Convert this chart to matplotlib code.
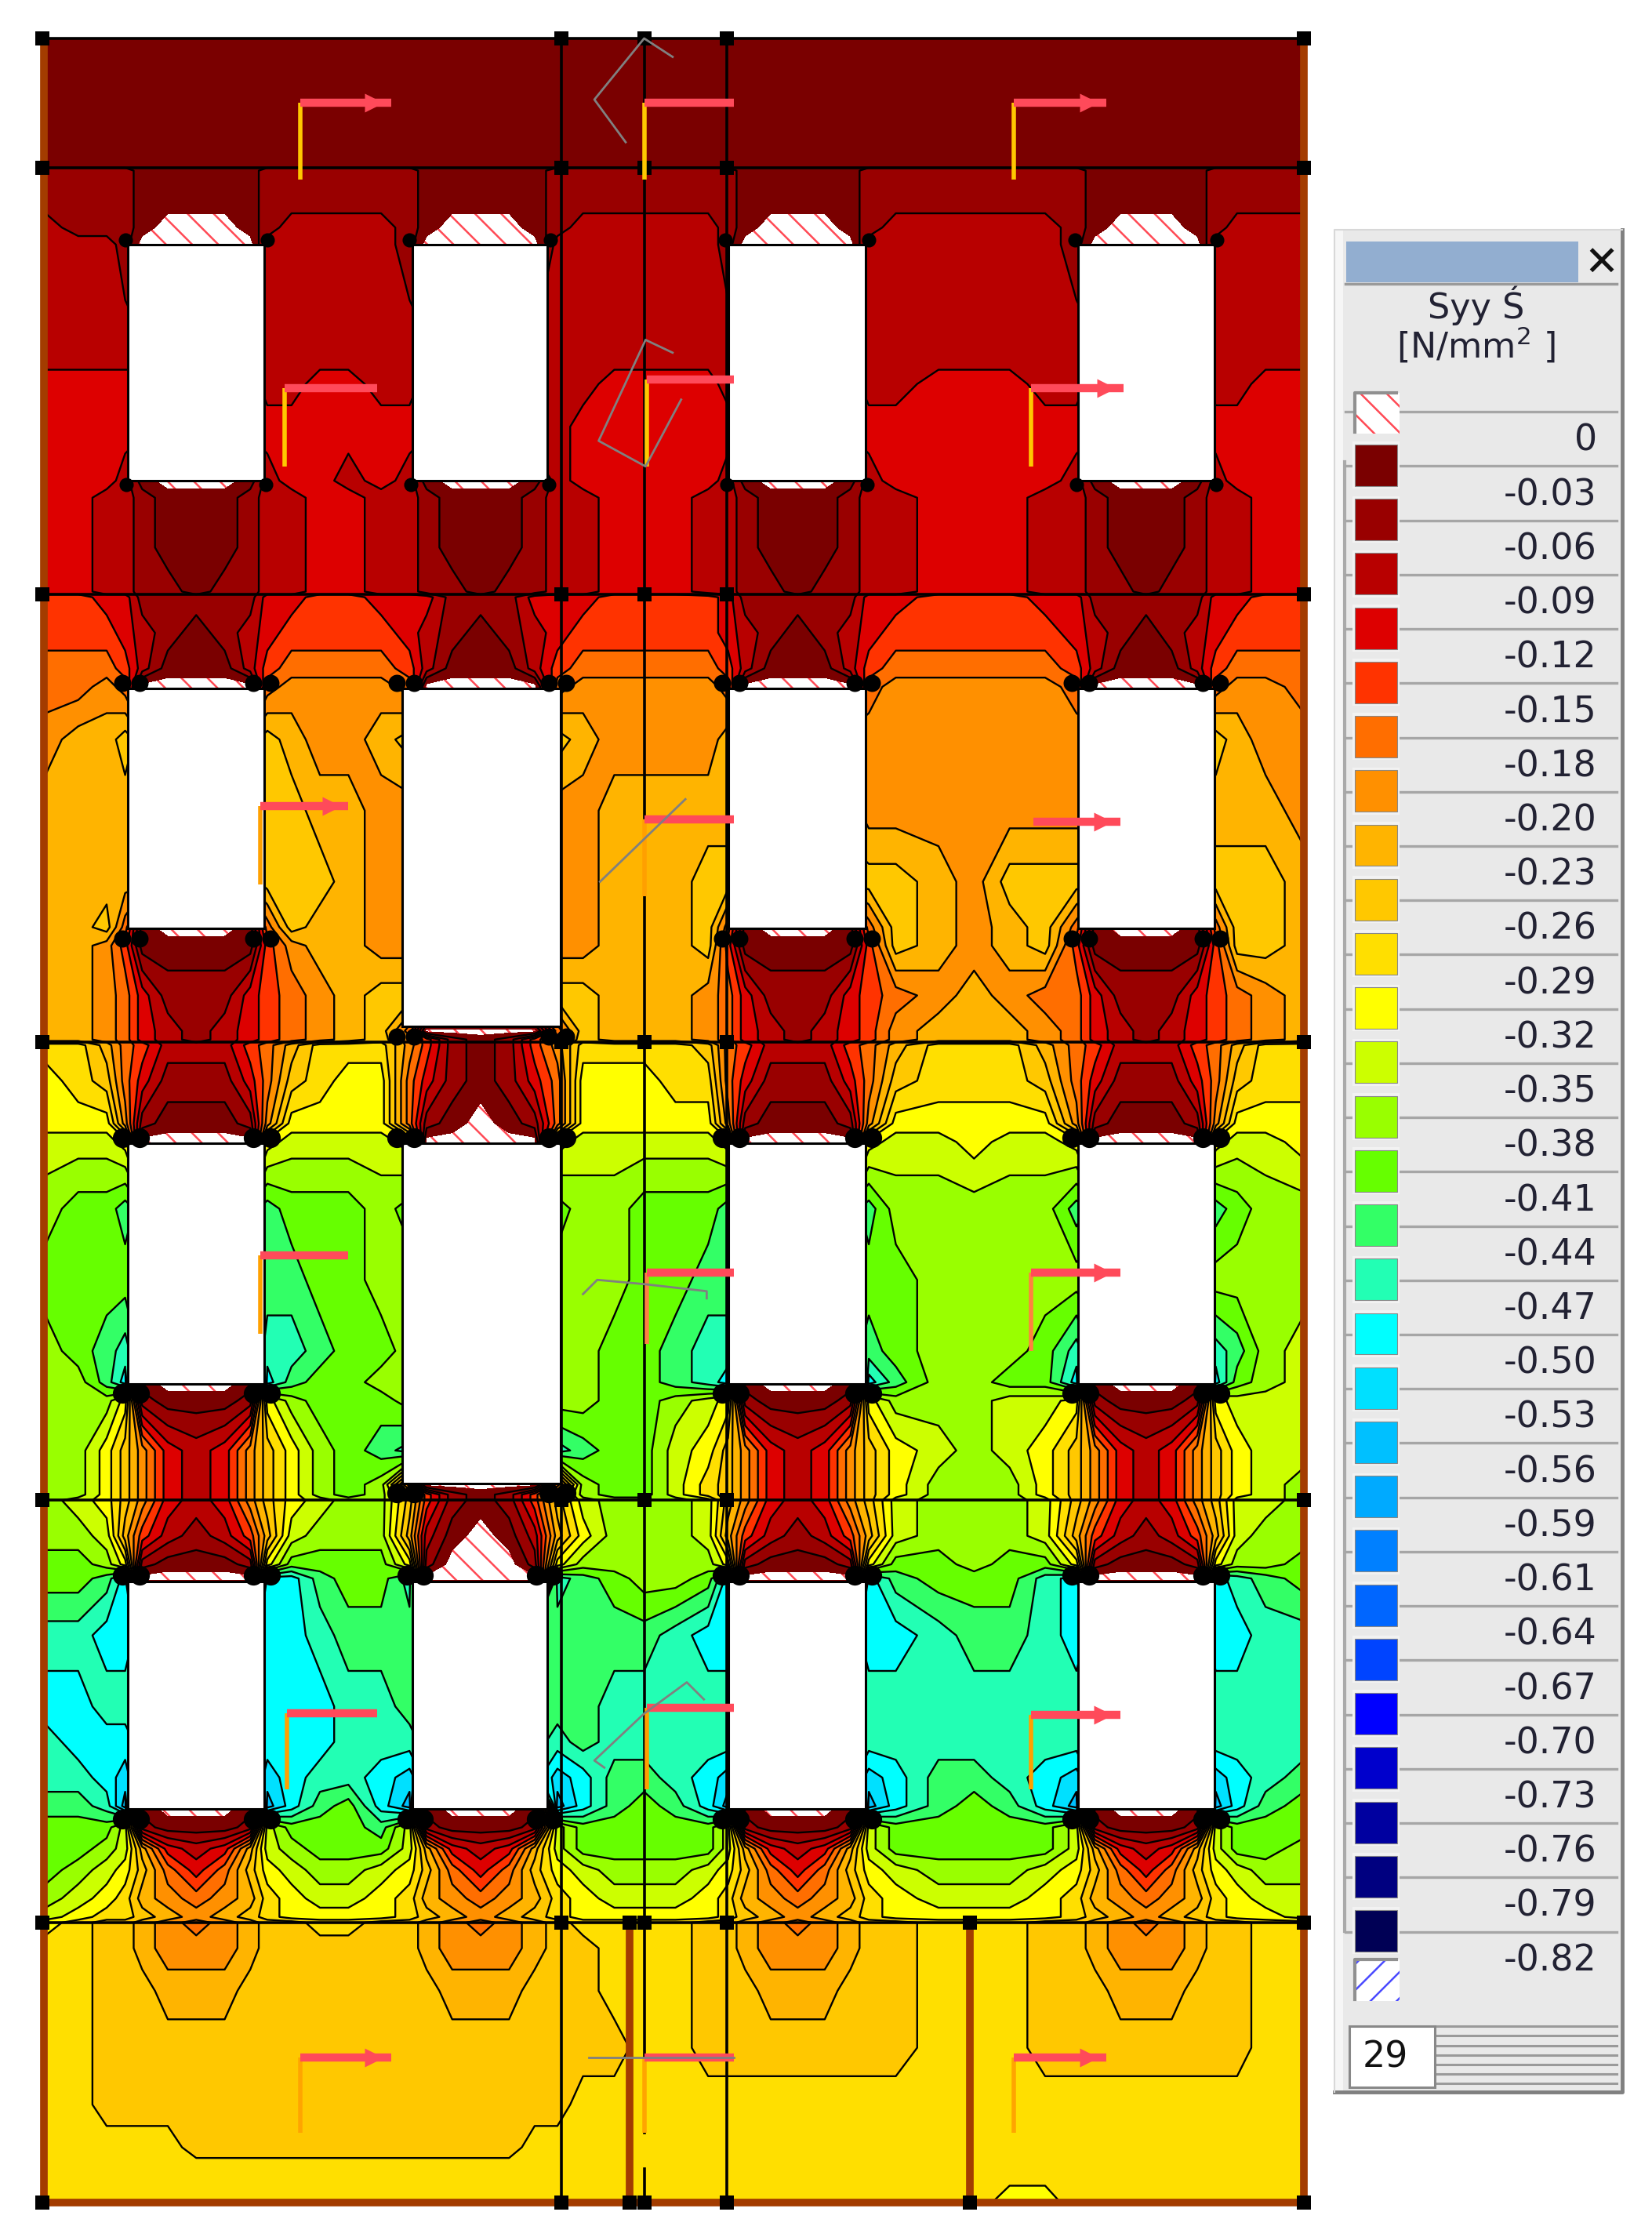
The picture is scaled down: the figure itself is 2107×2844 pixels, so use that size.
import numpy as np
import matplotlib
matplotlib.use("Agg")
import matplotlib.pyplot as plt
from matplotlib.patches import Rectangle

# --- legend ---
level_labels = ["0", "-0.03", "-0.06", "-0.09", "-0.12", "-0.15", "-0.18", "-0.20", "-0.23", "-0.26",
                "-0.29", "-0.32", "-0.35", "-0.38", "-0.41", "-0.44", "-0.47", "-0.50", "-0.53", "-0.56",
                "-0.59", "-0.61", "-0.64", "-0.67", "-0.70", "-0.73", "-0.76", "-0.79", "-0.82"]
band_colors = ["#7a0000", "#990000", "#b80000", "#dd0000", "#ff3300", "#ff6e00", "#ff9000", "#ffb400",
               "#ffc800", "#ffdf00", "#ffff00", "#ccff00", "#99ff00", "#66ff00", "#33ff66", "#22ffb4",
               "#00ffff", "#00e0ff", "#00c0ff", "#00aaff", "#0080ff", "#0066ff", "#0044ff", "#0000ff",
               "#0000cc", "#0000a0", "#000080", "#000055"]

# --- stress field: one char per station, base 36 band number, z = tension ---
x_stations = [32, 55, 75, 88, 100, 118, 138, 158, 176, 188, 205, 225, 245, 268, 288, 300, 318, 338, 358, 376,
              392, 410, 432, 453, 475, 498, 512, 524, 542, 561, 580, 598, 611, 630, 660, 685, 710, 735, 757,
              770, 788, 806, 824, 842, 855, 870, 890, 917]
y_stations = [27, 100, 116, 120, 140, 160, 172, 250, 270, 300, 338, 350, 385, 416, 420, 445, 470, 483, 520,
              570, 620, 652, 665, 700, 725, 731, 735, 760, 790, 803, 850, 900, 950, 972, 985, 1020, 1044,
              1051, 1055, 1080, 1100, 1110, 1150, 1200, 1225, 1250, 1270, 1285, 1300, 1315, 1335, 1348, 1352,
              1370, 1400, 1440, 1480, 1510, 1525, 1549]
band_rows = [
    "000 0000000 0000 0000000 00000 0000000 00000 0000000 000",
    "000 0000000 0000 0000000 00000 0000000 00000 0000000 000",
    "000 0000000 0000 0000000 00000 0000000 00000 0000000 000",
    "111 1000001 1111 1000001 11111 1000001 11111 1000001 111",
    "111 1000001 1111 1000001 11111 1000001 11111 1000001 111",
    "211 10zzz01 2222 10zzz01 22222 10zzz01 22222 10zzz01 222",
    "222 1zzzzz2 2222 1zzzzz2 22222 1zzzzz2 22222 1zzzzz2 222",
    "222 2222222 2222 2222222 22222 2222222 22222 2222222 222",
    "333 3333332 2332 2333332 23333 2333332 23332 2333332 233",
    "333 3333333 3333 3333332 33333 3333333 33333 3333333 333",
    "333 20zzz02 3323 20zzz02 33333 20zzz02 33333 20zzz02 333",
    "332 2100012 2332 2100012 23332 2100012 23332 2100012 233",
    "332 2100012 2332 2100012 23332 2100012 23332 2100012 233",
    "332 2110112 2332 2110112 23332 2110112 23332 2110112 233",
    "443 3111113 3443 3311133 34444 3111113 34443 3111113 344",
    "444 3210123 4444 3210123 44444 3210123 44444 3210123 444",
    "555 4200024 5555 4200024 55555 4200024 55555 4200024 555",
    "556 5zzzzz5 6666 5zzzzz5 66666 5zzzzz5 66666 5zzzzz5 665",
    "677 8777778 7667 8777778 76666 7777776 66666 6777778 766",
    "777 7777778 8776 6777776 67777 7777776 66666 6666667 776",
    "777 7777778 8876 6777776 67778 8888888 87688 8888888 887",
    "778 50zzz05 8776 6777776 67778 50zzz05 87678 50zzz05 887",
    "776 4000004 6776 6777776 67778 4000004 87678 4000004 887",
    "776 5311134 5678 8777778 87776 5311134 56765 5311134 567",
    "776 5321234 5678 5zzzzz5 87776 5321234 67776 5321234 567",
    "776 5321234 5678 6410146 87776 5321234 67776 5321234 567",
    "997 5422245 7999 6410146 99998 5422245 79997 5422245 799",
    "a98 5311135 89aa 5310135 aaa99 5311135 89998 5311135 899",
    "aaa 6100016 aaaa 510z015 aaaaa 6100016 aaaaa 6100016 aaa",
    "bbb azzzzza bbbb azzzzza bbbbb azzzzza bbabb azzzzza bba",
    "cdd eddddde dddc ddddddd ccddd eddddde ccccc eddddde dcc",
    "ddd dddddee eddc cdddddc ccdde edddddd dcccc ccccccc ccc",
    "cde fdddddf fedd cdddddc cddef fddddde dcccd fdddddf ecb",
    "cce g0zzz0g eddc cdddddc cddef g0zzz0g eccdd g0zzz0g dcb",
    "ccc a10001a cddd cdddddc cddcb a10001a cccbb a10001a bbb",
    "cca 8632368 acde fdddddf eddba 8632368 abcba 8632368 abb",
    "cca 8632368 acdc 5zzzzz5 cddb9 8632368 accca 8632368 abc",
    "cca 8632368 acdc 8410148 cddb9 8632368 accca 8632368 abc",
    "cba 8632368 abcc 8410148 bcccb 8632368 bcccb 8632368 bbc",
    "ccb 7421247 bccc 720z027 acccb 7421247 bcccb 7421247 bcc",
    "ddc a10001a dddd a1zzz1a ccccc a10001a ddcdd a10001a ccd",
    "dde gzzzzzg gedd fzzzzzf edccd gzzzzzg edddf gzzzzzg fed",
    "ffg gfffffg gfee efffffe eeefg gfffffg gfeef gfffffg gff",
    "ggf ffffffg ggff eeeeeee effff fffffff fffff fffffff fff",
    "fgg gffffgg ggff feeeeef effff fffffff fffff fffffff fff",
    "ffg hfffffh gffg hfffffh geefg hfffffh geefg hfffffh gfe",
    "eef i0zzz0i gedg i0zzz0i gedeg i0zzz0i gedeg i0zzz0i ged",
    "ddd b10001b ddde b10001b ddddd b10001b ddddd b10001b ddd",
    "ddc b73237b cddd b73237b ddddd b73237b ddddd b73237b ddc",
    "dcb a85358a bccb a85358a bcccb a85358a bcccb a85358a bcc",
    "cba 9765679 abba 9765679 abbba 9765679 abbba 9765679 abb",
    "ba9 9876789 aaaa 9876789 aaaaa 9876789 aaaaa 9876789 aab",
    "a98 8765678 8998 8765678 99998 8765678 89998 8765678 899",
    "998 8766678 8888 8766678 89998 8766678 89998 8766678 899",
    "998 8877788 8888 8877788 89998 8877788 89998 8877788 899",
    "998 8888888 8888 8888888 88998 8888888 89998 8888888 899",
    "998 8888888 8888 8888888 99999 9999999 99999 9999999 999",
    "999 9998888 8888 8888899 99999 9999999 99999 9999999 999",
    "999 9999999 9999 9999999 99999 9999999 99999 9999999 999",
    "999 9999999 9999 9999999 99999 9999999 999aa 9999999 999",
]

# --- building geometry ---
floor_y = [27, 118, 418, 733, 1055, 1352]
windows = [(90, 186, 172, 338), (290, 385, 172, 338), (512, 609, 172, 338), (758, 854, 172, 338),
           (90, 186, 484, 653), (283, 394, 484, 722), (512, 609, 484, 653), (758, 854, 484, 653),
           (90, 186, 804, 973), (283, 394, 804, 1043), (512, 609, 804, 973), (758, 854, 804, 973),
           (90, 186, 1112, 1272), (290, 385, 1112, 1272), (512, 609, 1112, 1272), (758, 854, 1112, 1272)]
# x, y of top, y of bottom, x end, arrow head, stem colour
sections = [(211, 72, 126, 275, True, "#ffc800"), (453, 72, 126, 516, False, "#ffc800"),
            (713, 72, 126, 778, True, "#ffc800"), (200, 273, 328, 265, False, "#ffc800"),
            (455, 267, 328, 516, False, "#ffc800"), (725, 273, 328, 790, True, "#ffc800"),
            (183, 567, 622, 245, True, "#ffa000"), (453, 576, 630, 516, False, "#ffa000"),
            (727, 578, 578, 788, True, "#ffa000"), (183, 883, 938, 245, False, "#ffa000"),
            (455, 895, 945, 516, False, "#ff8040"), (725, 895, 950, 788, True, "#ff8040"),
            (202, 1205, 1258, 265, False, "#ffa000"), (455, 1201, 1258, 516, False, "#ffa000"),
            (725, 1206, 1258, 788, True, "#ffa000"), (211, 1447, 1500, 275, True, "#ffa500"),
            (453, 1447, 1500, 516, False, "#ffa500"), (713, 1447, 1500, 778, True, "#ffa500")]
gray_paths = [[(473, 40), (453, 27), (418, 70), (440, 100)],
              [(473, 248), (454, 239), (421, 310), (454, 328), (479, 281)],
              [(482, 562), (453, 590), (422, 620)],
              [(410, 910), (420, 900), (453, 903), (497, 908), (497, 913)],
              [(495, 1195), (483, 1183), (453, 1205), (418, 1238), (425, 1243)],
              [(414, 1447), (516, 1447)]]

plt.rcParams["hatch.color"] = "#ff4a55"
plt.rcParams["hatch.linewidth"] = 1.8

scale = 1.8136  # picture px per unit of the coordinates above
fig = plt.figure(figsize=(21.07, 28.44), dpi=100, facecolor="white")
ax = fig.add_axes([0, 0, 1, 1])
ax.set_xlim(0, 2107 / scale)
ax.set_ylim(2844 / scale, 0)
ax.axis("off")

# Field
Z = np.array([[(-1 if c == "z" else int(c, 36)) + 0.5 for c in r.replace(" ", "")] for r in band_rows])
X, Y = np.meshgrid(x_stations, y_stations)
levels = np.arange(-1, 29)
ax.contourf(X, Y, Z, levels=levels, colors=["white"] + band_colors, hatches=["\\"] + [None] * 28, zorder=1)
ax.contour(X, Y, Z, levels=levels[2:-1], colors="black", linewidths=1.7, zorder=2)

# Windows and the dark clumps at their corners
for x0, x1, y0, y1 in windows:
    ax.add_patch(Rectangle((x0, y0), x1 - x0, y1 - y0, facecolor="white", edgecolor="black", lw=2.2, zorder=3))
    if y0 == 172:
        ax.scatter([x0 - 2, x1 + 2, x0 - 1, x1 + 1], [y0 - 3, y0 - 3, y1 + 3, y1 + 3], s=170, c="black",
                   linewidths=0, zorder=4)
    else:
        s = 250 if y0 == 484 else 330
        ax.scatter([x0 - 4, x0 + 8, x1 + 4, x1 - 8], [y0 - 4] * 4, s=s, c="black", linewidths=0, zorder=4)
        ax.scatter([x0 - 4, x0 + 8, x1 + 4, x1 - 8], [y1 + 7] * 4, s=s, c="black", linewidths=0, zorder=4)

# Lines of the model
for y in floor_y:
    ax.plot([30, 917], [y, y], color="black", lw=2.6, zorder=5)
ax.plot([395, 395], [27, 1549], color="black", lw=2.6, zorder=5)
ax.plot([511, 511], [27, 1549], color="black", lw=2.6, zorder=5)
for y0, y1 in [(27, 575), (630, 1500), (1525, 1549)]:
    ax.plot([453, 453], [y0, y1], color="black", lw=2.6, zorder=5)
for x, y0, y1 in [(30.7, 27, 1549), (917, 27, 1549), (443, 1352, 1549), (682, 1352, 1549)]:
    ax.plot([x, x], [y0, y1], color="#a33c00", lw=7, zorder=6, solid_capstyle="butt")
ax.plot([27, 920], [1549, 1549], color="#a33c00", lw=7, zorder=6, solid_capstyle="butt")

# Nodes
for y in floor_y + [1549]:
    ax.scatter([30, 395, 453, 511, 917], [y] * 5, s=170, c="black", marker="s", linewidths=0, zorder=7)
ax.scatter([443, 682], [1352, 1352], s=170, c="black", marker="s", linewidths=0, zorder=7)
ax.scatter([443, 682], [1549, 1549], s=170, c="black", marker="s", linewidths=0, zorder=7)

# Section marks
for x, y0, y1, x1, head, col in sections:
    if y1 > y0:
        ax.plot([x, x], [y0, y1], color=col, lw=4, zorder=8, solid_capstyle="butt")
    ax.plot([x, x1], [y0, y0], color="#ff4a5a", lw=7.5, zorder=9, solid_capstyle="butt")
    if head:
        ax.plot([x1 - 12], [y0], marker=">", ms=17, color="#ff4a5a", mec="none", zorder=9)
for path in gray_paths:
    ax.plot([p[0] for p in path], [p[1] for p in path], color="#808080", lw=2, zorder=10)

# Legend panel
ax.add_patch(Rectangle((938.5, 161.7), 202.5, 1309, facecolor="#e9e9e9", edgecolor="none", zorder=1))
ax.add_patch(Rectangle((938.5, 161.7), 6, 1309, facecolor="#f6f6f6", edgecolor="none", zorder=1))
ax.plot([1141, 1141, 938.5], [161.7, 1471, 1471], color="#808080", lw=3.5, zorder=2)
ax.plot([938.5, 938.5, 1141], [1471, 161.7, 161.7], color="#d8d8d8", lw=1.5, zorder=2)
ax.plot([945.6, 945.6], [325, 1358], color="#aaaaaa", lw=3, zorder=2)
ax.add_patch(Rectangle((946.6, 170), 163.5, 28.5, facecolor="#92aed0", edgecolor="none", zorder=2))
ax.plot([946, 1137], [199.5, 199.5], color="#9a9a9a", lw=2.5, zorder=2)
ax.text(1126, 185, "✕", fontsize=38, ha="center", va="center", color="#111111", fontweight="bold", zorder=3)
ax.text(1038, 215, "Syy Ś", fontsize=32, ha="center", va="center", color="#222233", zorder=3)
ax.text(1038, 243, "[N/mm$^{2}$ ]", fontsize=32, ha="center", va="center", color="#222233", zorder=3)

row_step = 38.17
for i, label in enumerate(level_labels):
    ly = 289.6 + i * row_step
    ax.plot([985, 1137], [ly, ly], color="#a6a6a6", lw=2.4, zorder=2)
    ax.plot([946, 953], [ly, ly], color="#a6a6a6", lw=2.4, zorder=2)
    ax.text(1123, ly + 20.5, label, fontsize=33, ha="right", va="center", color="#222233", zorder=3)
for i, col in enumerate(band_colors):
    top = 312.6 + i * row_step
    ax.add_patch(Rectangle((951, top - 2), 33, 33, facecolor="#f2f2f2", edgecolor="none", zorder=3))
    ax.add_patch(Rectangle((953, top), 29.5, 29.2, facecolor=col, edgecolor="#888888", lw=0.8, zorder=4))

# Out of range swatches
for top, hatch, col in [(276, "\\", "#ff4a55"), (1378, "/", "#4a4aff")]:
    plt.rcParams["hatch.color"] = col
    ax.add_patch(Rectangle((953, top), 31, 29, facecolor="white", edgecolor=col, hatch=hatch, lw=0, zorder=4))
    ax.plot([953, 953, 982], [top + 28, top, top], color="#909090", lw=3, zorder=5)

# Counter box
ax.add_patch(Rectangle((949, 1425), 60, 43, facecolor="white", edgecolor="#888888", lw=2.2, zorder=3))
ax.text(974, 1447, "29", fontsize=33, ha="center", va="center", color="#111111", zorder=4)
for k in range(7):
    sy = 1425 + k * 6.65
    ax.plot([1009, 1137], [sy, sy], color="#9a9a9a", lw=2.2, zorder=2)

fig.savefig("out.png", dpi=100, facecolor="white")
